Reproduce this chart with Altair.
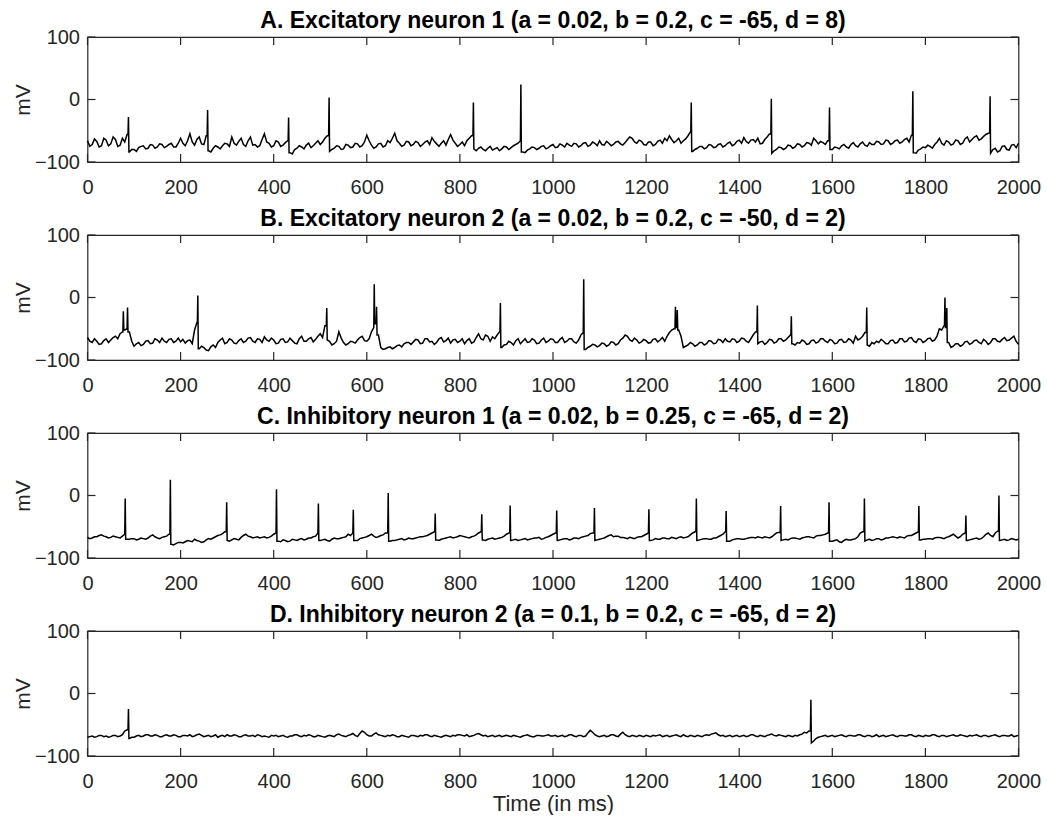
import altair as alt
import pandas as pd

# ---------------- data ----------------
x_ticks = [0, 200, 400, 600, 800, 1000, 1200, 1400, 1600, 1800, 2000]
y_ticks = [-100, 0, 100]

titles = [
    "A. Excitatory neuron 1 (a = 0.02, b = 0.2, c = -65, d = 8)",
    "B. Excitatory neuron 2 (a = 0.02, b = 0.2, c = -50, d = 2)",
    "C. Inhibitory neuron 1 (a = 0.02, b = 0.25, c = -65, d = 2)",
    "D. Inhibitory neuron 2 (a = 0.1, b = 0.2, c = -65, d = 2)",
]

# membrane potential every 10 ms (t = 0..2000), one row = 100 ms
a_grid = [
    -66, -72, -67, -74, -65, -71, -64, -73, -68, -84,
    -80, -77, -74, -78, -73, -76, -72, -75, -70, -76,
    -62, -74, -55, -73, -60, -72, -82, -78, -76, -74,
    -71, -60, -73, -62, -75, -60, -72, -74, -55, -70,
    -74, -68, -73, -66, -87, -78, -76, -73, -77, -70,
    -72, -62, -83, -78, -75, -79, -73, -76, -71, -74,
    -57, -73, -76, -70, -74, -69, -54, -70, -73, -68,
    -72, -69, -72, -66, -61, -71, -70, -73, -56, -70,
    -72, -74, -62, -79, -78, -80, -78, -81, -77, -79,
    -76, -77, -72, -66, -85, -79, -77, -78, -74, -77,
    -72, -76, -73, -70, -75, -71, -74, -69, -73, -70,
    -66, -73, -70, -72, -67, -73, -64, -62, -70, -67,
    -73, -68, -72, -65, -62, -58, -69, -62, -66, -58,
    -83, -78, -75, -77, -73, -76, -71, -74, -68, -72,
    -65, -61, -70, -64, -62, -70, -60, -86, -80, -77,
    -78, -74, -76, -72, -74, -70, -62, -71, -69, -66,
    -80, -77, -74, -76, -72, -74, -71, -73, -69, -72,
    -68, -71, -66, -70, -65, -68, -62, -57, -86, -79,
    -77, -75, -72, -62, -73, -68, -71, -66, -70, -60,
    -64, -58, -63, -56, -86, -78, -82, -74, -81, -72,
    -70,
]
# values half-way between the 10 ms samples (t = 5, 15, ..., 1995)
a_mid = [
    -75, -63, -76, -62, -74, -60, -75, -62, -56, -80,
    -83, -75, -79, -72, -78, -71, -77, -72, -76, -70,
    -70, -66, -68, -64, -71, -58, -84, -74, -79, -70,
    -75, -70, -67, -72, -66, -73, -76, -64, -68, -76,
    -66, -75, -69, -85, -80, -74, -79, -70, -74, -66,
    -68, -58, -80, -74, -80, -72, -77, -70, -76, -68,
    -66, -78, -71, -76, -66, -62, -66, -75, -67, -74,
    -67, -75, -68, -72, -67, -75, -66, -64, -65, -75,
    -68, -66, -58, -82, -76, -82, -75, -79, -82, -75,
    -80, -74, -70, -84, -81, -76, -80, -75, -79, -74,
    -77, -71, -76, -73, -70, -76, -70, -75, -68, -74,
    -72, -67, -74, -68, -71, -69, -60, -68, -65, -72,
    -68, -74, -67, -70, -66, -64, -66, -70, -63, -52,
    -80, -75, -79, -72, -77, -72, -76, -70, -74, -67,
    -70, -67, -65, -68, -71, -64, -55, -82, -76, -80,
    -73, -78, -71, -76, -69, -73, -66, -67, -72, -80,
    -76, -79, -72, -78, -69, -76, -68, -75, -72, -67,
    -72, -65, -72, -66, -70, -64, -68, -85, -81, -76,
    -73, -78, -68, -70, -66, -73, -65, -72, -63, -68,
    -60, -65, -59, -54, -80, -84, -75, -80, -73, -77,
]
a_spike_t = [88, 258, 432, 519, 829, 931, 1297, 1469, 1594, 1773, 1939]
a_spike_v = [-28, -17, -29, 3, -5, 24, -5, 1, -13, 13, 5]

b_grid = [
    -64, -72, -70, -74, -66, -68, -62, -58, -52, -55,
    -78, -72, -75, -69, -73, -68, -65, -72, -66, -70,
    -71, -73, -68, -52, -82, -80, -85, -76, -72, -65,
    -72, -68, -74, -66, -70, -64, -72, -67, -63, -70,
    -68, -73, -66, -71, -69, -74, -62, -70, -64, -67,
    -58, -45, -70, -74, -55, -72, -74, -71, -68, -62,
    -70, -55, -42, -80, -82, -79, -80, -76, -74, -72,
    -71, -68, -73, -66, -70, -72, -64, -69, -73, -67,
    -70, -74, -66, -71, -58, -68, -62, -63, -60, -80,
    -75, -72, -69, -74, -66, -71, -68, -73, -65, -70,
    -67, -72, -64, -70, -66, -73, -60, -83, -78, -76,
    -77, -74, -76, -72, -74, -65, -62, -70, -68, -71,
    -69, -72, -66, -68, -70, -56, -50, -52, -80, -76,
    -74, -76, -72, -74, -70, -73, -68, -66, -71, -67,
    -70, -66, -72, -60, -74, -70, -72, -68, -71, -66,
    -68, -60, -76, -73, -70, -74, -68, -71, -66, -72,
    -69, -73, -67, -71, -68, -62, -66, -56, -78, -74,
    -72, -70, -74, -68, -72, -66, -70, -64, -72, -67,
    -70, -65, -68, -50, -45, -72, -78, -74, -76, -70,
    -73, -68, -74, -70, -72, -66, -71, -64, -68, -62,
    -75,
]
b_mid = [
    -70, -66, -75, -69, -72, -64, -66, -55, -50, -70,
    -74, -77, -70, -74, -66, -72, -70, -67, -72, -65,
    -67, -69, -74, -40, -78, -84, -79, -80, -68, -74,
    -66, -73, -69, -72, -65, -70, -66, -72, -68, -65,
    -74, -67, -72, -65, -73, -66, -70, -66, -71, -62,
    -64, -68, -76, -70, -65, -76, -70, -73, -64, -69,
    -66, -48, -60, -83, -80, -82, -77, -79, -72, -75,
    -67, -74, -66, -71, -75, -66, -71, -65, -68, -72,
    -66, -69, -73, -64, -66, -60, -70, -66, -55, -76,
    -70, -76, -66, -70, -72, -66, -74, -68, -72, -66,
    -72, -67, -72, -66, -71, -68, -56, -80, -75, -79,
    -73, -78, -71, -76, -68, -60, -68, -65, -73, -67,
    -73, -67, -71, -64, -62, -52, -48, -62, -78, -72,
    -78, -72, -76, -69, -74, -67, -72, -70, -66, -72,
    -65, -70, -66, -55, -71, -75, -67, -73, -66, -70,
    -64, -74, -72, -68, -75, -69, -73, -66, -70, -67,
    -74, -68, -72, -66, -73, -68, -62, -76, -72, -70,
    -67, -74, -69, -73, -66, -71, -65, -70, -66, -72,
    -66, -70, -62, -52, -48, -80, -74, -78, -71, -75,
    -69, -72, -67, -75, -66, -70, -67, -69, -65, -70,
]
b_spike_t = [77, 86, 237, 514, 616, 621, 887, 1066, 1263, 1267, 1439, 1512, 1674, 1842, 1846]
b_spike_v = [-22, -16, 3, -17, 21, -15, -9, 29, -15, -20, -13, -30, -16, 0, -17]

c_grid = [
    -67, -68, -66, -63, -66, -67, -66, -68, -62, -70,
    -69, -70, -69, -68, -63, -68, -67, -65, -78, -77,
    -75, -74, -73, -70, -73, -74, -69, -68, -64, -61,
    -72, -71, -70, -67, -62, -66, -67, -68, -66, -67,
    -62, -73, -71, -74, -70, -72, -69, -70, -68, -65,
    -72, -70, -73, -68, -69, -67, -62, -60, -72, -68,
    -66, -62, -67, -64, -60, -73, -72, -70, -71, -68,
    -69, -67, -66, -64, -60, -71, -70, -68, -66, -67,
    -64, -66, -68, -65, -60, -71, -70, -68, -69, -67,
    -62, -72, -70, -71, -69, -70, -68, -67, -69, -66,
    -62, -72, -70, -69, -70, -68, -67, -65, -61, -72,
    -70, -68, -64, -66, -65, -67, -69, -68, -67, -66,
    -62, -72, -69, -70, -68, -69, -68, -67, -68, -66,
    -60, -72, -70, -69, -70, -68, -64, -58, -73, -70,
    -69, -70, -68, -67, -66, -68, -67, -66, -60, -72,
    -70, -69, -68, -70, -67, -66, -68, -64, -63, -60,
    -73, -71, -75, -70, -71, -69, -60, -73, -70, -71,
    -69, -70, -68, -66, -68, -67, -65, -64, -60, -71,
    -70, -69, -68, -67, -69, -66, -62, -68, -62, -72,
    -70, -68, -69, -62, -64, -60, -72, -70, -71, -70,
    -70,
]
c_mid = [
    -69, -66, -64, -65, -68, -65, -67, -65, -70, -69,
    -71, -68, -70, -65, -66, -69, -66, -62, -79, -75,
    -76, -72, -74, -72, -75, -71, -70, -66, -63, -58,
    -73, -69, -71, -64, -65, -68, -66, -67, -68, -65,
    -60, -74, -72, -73, -71, -70, -71, -68, -66, -60,
    -71, -72, -70, -69, -68, -66, -64, -72, -69, -67,
    -64, -65, -66, -63, -60, -72, -71, -69, -70, -69,
    -68, -66, -65, -62, -58, -72, -69, -67, -68, -66,
    -65, -67, -66, -63, -58, -72, -69, -70, -68, -65,
    -60, -71, -72, -70, -71, -69, -68, -70, -67, -64,
    -60, -71, -69, -71, -68, -69, -66, -64, -60, -71,
    -69, -66, -63, -65, -67, -68, -67, -69, -66, -64,
    -60, -71, -70, -68, -69, -67, -69, -66, -67, -63,
    -58, -71, -69, -70, -68, -66, -62, -73, -71, -69,
    -70, -69, -67, -68, -67, -66, -68, -63, -59, -71,
    -71, -68, -69, -68, -66, -67, -65, -64, -62, -73,
    -72, -74, -72, -71, -70, -66, -58, -71, -72, -69,
    -71, -68, -67, -67, -66, -68, -64, -62, -58, -70,
    -69, -70, -67, -68, -67, -64, -65, -66, -60, -71,
    -69, -70, -66, -60, -66, -57, -71, -72, -69, -71,
]
c_spike_t = [81, 178, 299, 406, 496, 571, 646, 747, 847, 908, 1008, 1089, 1206,
             1308, 1372, 1489, 1593, 1669, 1786, 1887, 1958]
c_spike_v = [-5, 25, -11, 10, -13, -23, 4, -29, -30, -16, -24, -20, -22,
             -5, -25, -17, -11, -5, -17, -32, 0]

d_grid = [
    -70, -68, -69, -67, -68, -69, -67, -68, -60, -72,
    -70, -67, -68, -66, -68, -67, -69, -66, -68, -67,
    -69, -67, -66, -68, -65, -69, -67, -68, -70, -67,
    -66, -68, -67, -69, -66, -68, -69, -67, -68, -70,
    -68, -69, -67, -70, -68, -66, -69, -68, -67, -69,
    -68, -70, -67, -69, -65, -68, -67, -64, -69, -60,
    -66, -68, -63, -67, -69, -68, -67, -69, -68, -70,
    -67, -69, -68, -66, -69, -68, -70, -67, -69, -68,
    -66, -68, -69, -67, -64, -68, -69, -67, -68, -69,
    -67, -69, -68, -70, -67, -68, -69, -67, -68, -66,
    -68, -69, -67, -68, -66, -69, -67, -68, -59, -66,
    -69, -67, -68, -66, -69, -62, -68, -67, -69, -68,
    -67, -69, -68, -66, -68, -69, -67, -68, -66, -69,
    -68, -67, -69, -66, -65, -63, -68, -69, -67, -68,
    -69, -67, -68, -66, -69, -68, -67, -65, -68, -67,
    -69, -68, -67, -66, -62, -60, -76, -70, -68, -69,
    -67, -68, -66, -69, -67, -68, -66, -69, -67, -68,
    -69, -67, -68, -66, -69, -67, -68, -66, -69, -68,
    -67, -68, -66, -69, -67, -68, -66, -68, -67, -69,
    -68, -66, -69, -67, -68, -66, -69, -67, -68, -69,
    -67,
]
d_mid = [
    -69, -70, -67, -69, -70, -67, -69, -66, -58, -70,
    -68, -69, -66, -68, -66, -69, -67, -68, -66, -69,
    -67, -68, -69, -66, -67, -68, -69, -66, -68, -69,
    -68, -66, -69, -67, -68, -67, -66, -69, -69, -67,
    -67, -68, -69, -68, -66, -68, -67, -66, -69, -67,
    -69, -68, -68, -66, -67, -69, -66, -67, -64, -62,
    -68, -65, -66, -68, -67, -66, -69, -67, -69, -67,
    -68, -67, -66, -68, -67, -69, -68, -68, -67, -66,
    -67, -66, -68, -65, -66, -67, -68, -69, -67, -68,
    -68, -67, -69, -68, -66, -69, -67, -68, -67, -68,
    -67, -68, -69, -66, -68, -67, -69, -63, -62, -68,
    -68, -69, -66, -68, -65, -66, -69, -68, -67, -69,
    -68, -67, -67, -69, -67, -68, -66, -69, -68, -67,
    -69, -68, -67, -67, -64, -66, -67, -68, -69, -67,
    -68, -69, -66, -68, -67, -69, -66, -67, -66, -68,
    -67, -69, -68, -65, -63, -79, -72, -69, -67, -68,
    -69, -67, -68, -67, -68, -66, -68, -67, -69, -66,
    -68, -69, -67, -68, -67, -68, -66, -68, -67, -69,
    -68, -66, -68, -67, -69, -67, -68, -66, -68, -67,
    -67, -68, -67, -69, -67, -68, -67, -68, -66, -68,
]
d_spike_t = [88, 1554]
d_spike_v = [-25, -10]

# ---------------- construction ----------------
W, H = 931, 125
INK = "#262626"
FONT = "Liberation Sans"


def build(grid, mid, spike_t, spike_v):
    fine = []
    for i, v in enumerate(grid):
        fine.append(v)
        if i < len(mid):
            fine.append(mid[i])
    step = 5
    pts = [(i * float(step), float(v), 0) for i, v in enumerate(fine)]
    for t, v in zip(spike_t, spike_v):
        j = t // step
        pts.append((t - 1.0, float(fine[j]), 1))
        pts.append((float(t), float(v), 2))
        pts.append((t + 1.0, float(fine[j + 1]), 3))
    pts.sort(key=lambda p: (p[0], p[2]))
    return pd.DataFrame({"t": [p[0] for p in pts], "v": [p[1] for p in pts],
                         "i": list(range(len(pts)))})


def panel(title, grid, mid, st, sv, last):
    df = build(grid, mid, st, sv)
    xscale = alt.Scale(domain=[0, 2000], nice=False, zero=False)
    yscale = alt.Scale(domain=[-100, 100], nice=False, zero=False)
    xaxis = alt.Axis(values=x_ticks, ticks=False, domain=False, grid=False,
                     labelPadding=15.5, labelFlush=False, format="d",
                     title="Time (in ms)" if last else None, titlePadding=1.5)
    yaxis = alt.Axis(values=y_ticks, ticks=False, domain=False, grid=False,
                     labelPadding=8, title="mV", titlePadding=1)
    line = alt.Chart(df).mark_line(color="black", strokeWidth=1.5).encode(
        x=alt.X("t:Q", scale=xscale, axis=xaxis),
        y=alt.Y("v:Q", scale=yscale, axis=yaxis),
        order="i:Q",
    )
    xt = pd.DataFrame({"t": x_ticks})
    yt = pd.DataFrame({"v": y_ticks})
    tb = alt.Chart(xt).mark_rule(color=INK, strokeWidth=1.2).encode(
        x=alt.X("t:Q", scale=xscale, axis=xaxis), y=alt.value(H), y2=alt.value(H - 8))
    tt = alt.Chart(xt).mark_rule(color=INK, strokeWidth=1.2).encode(
        x=alt.X("t:Q", scale=xscale, axis=xaxis), y=alt.value(0), y2=alt.value(8))
    tl = alt.Chart(yt).mark_rule(color=INK, strokeWidth=1.2).encode(
        y=alt.Y("v:Q", scale=yscale, axis=yaxis), x=alt.value(0), x2=alt.value(8))
    tr = alt.Chart(yt).mark_rule(color=INK, strokeWidth=1.2).encode(
        y=alt.Y("v:Q", scale=yscale, axis=yaxis), x=alt.value(W - 8), x2=alt.value(W))
    return alt.layer(line, tb, tt, tl, tr).properties(
        width=W, height=H,
        title=alt.TitleParams(title, fontSize=23, fontWeight="bold", font=FONT,
                              color="black", offset=-6, anchor="middle"),
    )


panels = [
    panel(titles[0], a_grid, a_mid, a_spike_t, a_spike_v, False),
    panel(titles[1], b_grid, b_mid, b_spike_t, b_spike_v, False),
    panel(titles[2], c_grid, c_mid, c_spike_t, c_spike_v, False),
    panel(titles[3], d_grid, d_mid, d_spike_t, d_spike_v, True),
]

chart = alt.vconcat(*panels, spacing=8).properties(
    padding={"left": 11.5, "top": 9, "right": 0, "bottom": 0},
    background="white",
).configure_view(stroke=INK, strokeWidth=1.2).configure_axis(
    labelFont=FONT, labelFontSize=20, labelColor=INK,
    titleFont=FONT, titleFontSize=22, titleColor=INK, titleFontWeight="normal",
).configure_axisY(titleFontSize=21)

chart.save("out.html", embed_options={"renderer": "svg", "actions": False})
